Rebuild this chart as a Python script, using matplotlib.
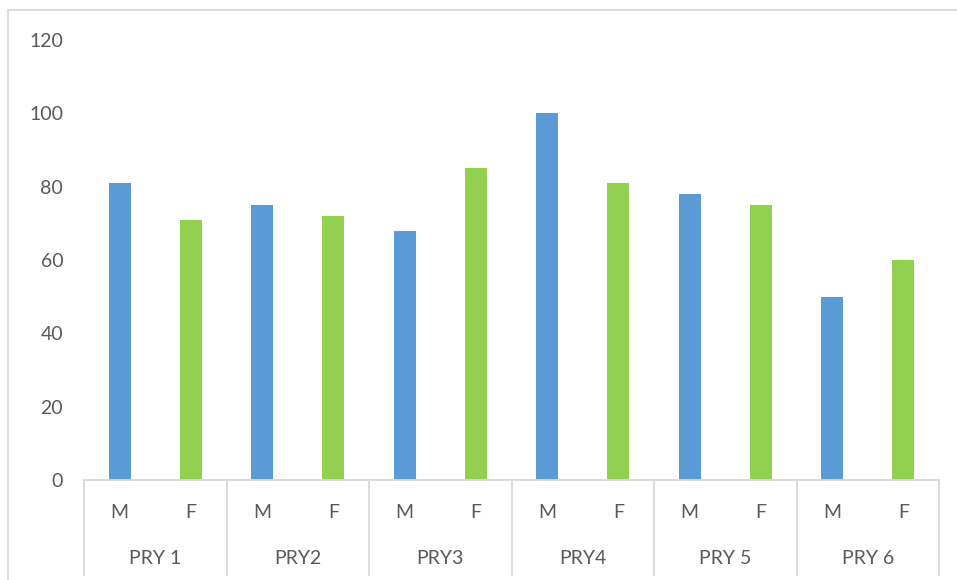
import numpy as np
import matplotlib.pyplot as plt
from matplotlib.lines import Line2D

groups = ["PRY 1", "PRY2", "PRY3", "PRY4", "PRY 5", "PRY 6"]
sexes = ["M", "F"]
male = [81, 75, 68, 100, 78, 50]
female = [71, 72, 85, 81, 75, 60]

BLUE = "#5B9BD5"
GREEN = "#92D050"
GREY = "#D9D9D9"
TEXT = "#595959"

plt.rcParams['font.family'] = ['Lato', 'DejaVu Sans']

W, H = 957, 580
fig = plt.figure(figsize=(W / 100, H / 100), dpi=100)
ax = fig.add_axes([84 / W, (H - 480) / H, (939 - 84) / W, 440 / H])

n = len(groups)
x_m = np.arange(n) * 2
x_f = x_m + 1
ax.bar(x_m, male, width=0.31, color=BLUE)
ax.bar(x_f, female, width=0.31, color=GREEN)

ax.set_xlim(-0.5, 2 * n - 0.5)
ax.set_ylim(0, 120)
ax.set_yticks(range(0, 121, 20))
ax.tick_params(axis='y', length=0, pad=15, labelsize=14, labelcolor=TEXT)
ax.set_xticks([])
for s in ["top", "right", "left"]:
    ax.spines[s].set_visible(False)
ax.spines["bottom"].set_color(GREY)
ax.spines["bottom"].set_linewidth(1.3)

# multi-level category axis
tr = ax.get_xaxis_transform()
depth = -95 / 440
for b in np.arange(n + 1) * 2 - 0.5:
    ax.add_line(Line2D([b, b], [0, depth], transform=tr, color=GREY, lw=1.3, clip_on=False))
for i, g in enumerate(groups):
    for j, s in enumerate(sexes):
        ax.text(2 * i + j, -32 / 440, s, transform=tr, ha='center', va='center',
                fontsize=14, color=TEXT)
    ax.text(2 * i + 0.5, -78 / 440, g, transform=tr, ha='center', va='center',
            fontsize=14, color=TEXT)

# chart area border (top and left visible)
fig.add_artist(Line2D([8 / W, 1], [1 - 10 / H, 1 - 10 / H], transform=fig.transFigure, color=GREY, lw=1.3))
fig.add_artist(Line2D([8 / W, 8 / W], [0, 1 - 10 / H], transform=fig.transFigure, color=GREY, lw=1.3))

fig.savefig("out.png", dpi=100)
